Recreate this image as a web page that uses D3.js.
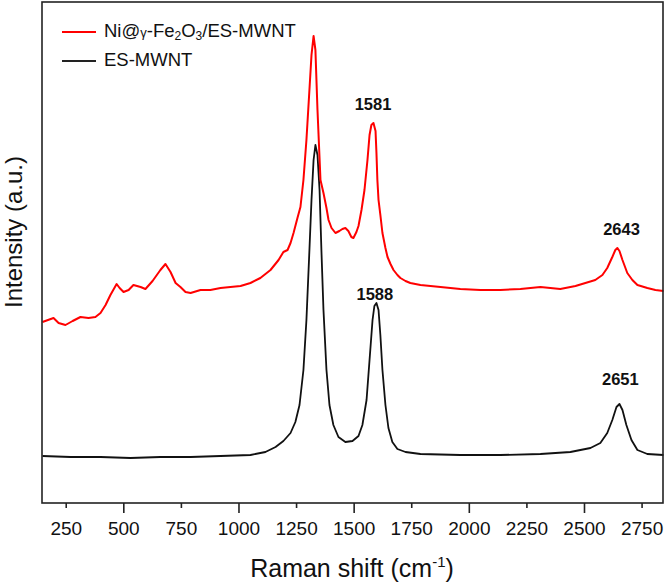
<!DOCTYPE html>
<html>
<head>
<meta charset="utf-8">
<script src="https://d3js.org/d3.v7.min.js"></script>
<style>
    body { margin: 0; background: #fff; }
    text { font-family: "Liberation Sans", Arial, sans-serif; }
</style>
</head>
<body>
<svg id="vis"></svg>

<script>
    // Ni@γ-Fe2O3/ES-MWNT spectrum (red)
    const redShift = [149, 197, 219, 249, 280, 314, 349, 379, 401, 423, 444, 471, 484, 501, 523, 544, 575, 596,
        627, 661, 683, 705, 727, 748, 770, 792, 835, 878, 922, 965, 1009, 1052, 1095, 1139, 1174, 1195, 1213,
        1226, 1239, 1256, 1269, 1282, 1295, 1308, 1317, 1326, 1334, 1343, 1356, 1369, 1382, 1391, 1404, 1421,
        1438, 1451, 1464, 1477, 1490, 1499, 1512, 1521, 1534, 1547, 1560, 1569, 1577, 1586, 1595, 1599, 1603,
        1608, 1616, 1625, 1638, 1647, 1660, 1673, 1690, 1703, 1725, 1746, 1790, 1877, 1963, 2050, 2137, 2224,
        2311, 2397, 2463, 2506, 2549, 2580, 2601, 2623, 2636, 2645, 2654, 2667, 2688, 2710, 2732, 2775, 2810, 2845]
    const redIntensity = [181, 185, 180, 178, 182, 186, 185, 186, 190, 198, 208, 219, 215, 211, 213, 218, 216, 214,
        222, 233, 239, 231, 220, 216, 211, 210, 213, 213, 215, 216, 217, 220, 225, 233, 243, 251, 253,
        260, 270, 285, 296, 323, 363, 413, 448, 467, 453, 393, 323, 310, 295, 283, 275, 270,
        272, 274, 275, 272, 266, 265, 271, 277, 293, 313, 343, 368, 378, 380, 372, 350, 323,
        303, 288, 270, 255, 246, 239, 233, 228, 225, 222, 220, 218, 216, 214, 213, 213, 214,
        216, 214, 217, 220, 223, 228, 235, 246, 253, 255, 252, 243, 230, 223, 218, 215, 213, 212]

    // ES-MWNT spectrum (black)
    const blackShift = [149, 271, 401, 531, 661, 792, 922, 1052, 1117, 1161, 1195, 1226, 1247, 1265, 1282, 1295,
        1308, 1317, 1326, 1334, 1343, 1352, 1360, 1369, 1382, 1395, 1412, 1434, 1464, 1495, 1521, 1538, 1556,
        1569, 1582, 1590, 1599, 1608, 1616, 1625, 1638, 1651, 1668, 1690, 1725, 1790, 1963, 2137, 2311, 2441,
        2528, 2571, 2601, 2623, 2641, 2654, 2667, 2684, 2706, 2732, 2775, 2845]
    const blackIntensity = [47, 46, 46, 45, 46, 46, 47, 48, 51, 56, 62, 70, 81, 98, 133, 183,
        253, 303, 343, 358, 348, 313, 253, 193, 133, 98, 78, 66, 61, 62, 67, 78, 103,
        143, 183, 197, 200, 193, 168, 133, 98, 75, 61, 54, 51, 49, 48, 48, 49, 51,
        55, 60, 70, 83, 96, 99, 93, 78, 63, 53, 49, 48]

    // peak labels
    const peakLabels = ['1581', '2643', '1588', '2651']
    const peakShift = [1584, 2663, 1592, 2658]
    const peakIntensity = [393, 268, 203, 118]

    const xTicks = [250, 500, 750, 1000, 1250, 1500, 1750, 2000, 2250, 2500, 2750]

    const W = 666, H = 585
    const plotLeft = 42, plotRight = 663, plotTop = 2, plotBottom = 503

    let svg = d3.select('#vis')
        .attr('width', W)
        .attr('height', H)

    let x = d3.scaleLinear().domain([147, 2843]).range([plotLeft, plotRight])
    let y = d3.scaleLinear().domain([0, 501]).range([plotBottom, plotTop])

    let line = d3.line()
        .x(d => x(d[0]))
        .y(d => y(d[1]))

    let redData = d3.zip(redShift, redIntensity)
    let blackData = d3.zip(blackShift, blackIntensity)

    svg.append('path')
        .datum(blackData)
        .attr('d', line)
        .attr('fill', 'none')
        .attr('stroke', '#111')
        .attr('stroke-width', 1.8)
        .attr('stroke-linejoin', 'round')

    svg.append('path')
        .datum(redData)
        .attr('d', line)
        .attr('fill', 'none')
        .attr('stroke', '#f00')
        .attr('stroke-width', 2)
        .attr('stroke-linejoin', 'round')

    // frame
    svg.append('rect')
        .attr('x', plotLeft)
        .attr('y', plotTop)
        .attr('width', plotRight - plotLeft)
        .attr('height', plotBottom - plotTop)
        .attr('fill', 'none')
        .attr('stroke', '#222')
        .attr('stroke-width', 1.6)

    // x axis
    let xAxis = svg.append('g')
        .attr('transform', 'translate(0,' + plotBottom + ')')
        .call(d3.axisBottom(x).tickValues(xTicks).tickSize(10).tickFormat(d3.format('d')))

    xAxis.select('.domain').remove()
    xAxis.selectAll('.tick line')
        .attr('stroke', '#222')
        .attr('stroke-width', 1.6)
        .attr('y2', d => d % 500 === 0 ? 10 : 5)
    xAxis.selectAll('.tick text')
        .attr('y', 19)
        .attr('fill', '#111')
        .style('font-size', '19px')
        .style('font-family', '"Liberation Sans", Arial, sans-serif')

    // axis titles
    let xTitle = svg.append('text')
        .attr('x', 352)
        .attr('y', 577)
        .attr('text-anchor', 'middle')
        .style('font-size', '25px')
        .attr('fill', '#111')
    xTitle.append('tspan').text('Raman shift (cm')
    xTitle.append('tspan').attr('dy', -10).style('font-size', '15px').text('-1')
    xTitle.append('tspan').attr('dy', 10).text(')')

    svg.append('text')
        .attr('transform', 'translate(22,232) rotate(-90)')
        .attr('text-anchor', 'middle')
        .style('font-size', '24px')
        .attr('fill', '#111')
        .text('Intensity (a.u.)')

    // peak labels
    svg.selectAll('.peak')
        .data(peakLabels)
        .enter().append('text')
        .attr('class', 'peak')
        .attr('x', (d, i) => x(peakShift[i]))
        .attr('y', (d, i) => y(peakIntensity[i]))
        .attr('text-anchor', 'middle')
        .style('font-size', '16.5px')
        .style('font-weight', 'bold')
        .attr('fill', '#111')
        .text(d => d)

    // legend
    svg.append('line')
        .attr('x1', 62).attr('x2', 96)
        .attr('y1', 32).attr('y2', 32)
        .attr('stroke', '#f00')
        .attr('stroke-width', 2)

    let leg1 = svg.append('text')
        .attr('x', 104)
        .attr('y', 37)
        .style('font-size', '18.5px')
        .attr('fill', '#111')
    leg1.append('tspan').text('Ni@')
    leg1.append('tspan').style('font-size', '13px').text('γ')
    leg1.append('tspan').text('-Fe')
    leg1.append('tspan').attr('dy', 3).style('font-size', '12px').text('2')
    leg1.append('tspan').attr('dy', -3).text('O')
    leg1.append('tspan').attr('dy', 3).style('font-size', '12px').text('3')
    leg1.append('tspan').attr('dy', -3).text('/ES-MWNT')

    svg.append('line')
        .attr('x1', 62).attr('x2', 96)
        .attr('y1', 61).attr('y2', 61)
        .attr('stroke', '#222')
        .attr('stroke-width', 2)

    svg.append('text')
        .attr('x', 104)
        .attr('y', 66)
        .style('font-size', '18.5px')
        .attr('fill', '#111')
        .text('ES-MWNT')
</script>
</body>
</html>
